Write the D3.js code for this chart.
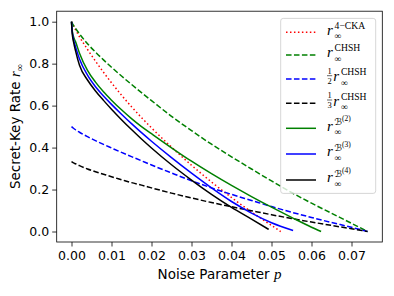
<!DOCTYPE html>
<html><head><meta charset="utf-8">
<script src="https://cdn.jsdelivr.net/npm/d3@7"></script>
<style>body{margin:0;background:#fff}svg{display:block}</style>
</head><body>
<svg id="c" width="394" height="296"></svg>
<script>
// ---- data (p, r) ----
const xTicks = [0, 0.01, 0.02, 0.03, 0.04, 0.05, 0.06, 0.07];
const yTicks = [0, 0.2, 0.4, 0.6, 0.8, 1.0];

const rCKA = [[0,1],[0.001,0.962],[0.002,0.928],[0.004,0.868],[0.006,0.812],[0.008,0.759],[0.01,0.709],[0.0125,0.65],[0.015,0.595],[0.0175,0.543],[0.02,0.494],[0.025,0.402],[0.03,0.316],[0.035,0.236],[0.04,0.162],[0.045,0.093],[0.05,0.029],[0.0523,0]];
const rCHSH = [[0,1],[0.0005,0.982],[0.001,0.968],[0.002,0.942],[0.004,0.895],[0.006,0.855],[0.008,0.818],[0.01,0.783],[0.0125,0.741],[0.015,0.701],[0.0175,0.662],[0.02,0.624],[0.025,0.549],[0.03,0.481],[0.035,0.416],[0.04,0.356],[0.045,0.298],[0.05,0.241],[0.055,0.186],[0.06,0.135],[0.065,0.087],[0.07,0.039],[0.074,0]];
const rHalfCHSH = [[0,0.5],[0.0005,0.492],[0.001,0.485],[0.002,0.473],[0.004,0.452],[0.006,0.433],[0.008,0.415],[0.01,0.398],[0.0125,0.377],[0.015,0.357],[0.0175,0.337],[0.02,0.317],[0.025,0.279],[0.03,0.242],[0.035,0.208],[0.04,0.177],[0.045,0.148],[0.05,0.119],[0.055,0.092],[0.06,0.067],[0.065,0.043],[0.07,0.02],[0.074,0]];
const rThirdCHSH = [[0,0.333],[0.0005,0.327],[0.001,0.323],[0.002,0.314],[0.004,0.298],[0.006,0.285],[0.008,0.273],[0.01,0.261],[0.0125,0.247],[0.015,0.233],[0.0175,0.221],[0.02,0.208],[0.025,0.183],[0.03,0.16],[0.035,0.138],[0.04,0.118],[0.045,0.099],[0.05,0.08],[0.055,0.062],[0.06,0.045],[0.065,0.029],[0.07,0.013],[0.074,0]];
const rB2 = [[0,1],[0.0002,0.955],[0.0005,0.928],[0.001,0.905],[0.002,0.85],[0.004,0.768],[0.006,0.712],[0.008,0.666],[0.01,0.626],[0.0125,0.58],[0.015,0.538],[0.0175,0.5],[0.02,0.466],[0.025,0.399],[0.03,0.335],[0.035,0.2755],[0.04,0.2195],[0.045,0.1665],[0.05,0.116],[0.055,0.0675],[0.06,0.0205],[0.0624,0]];
const rB3 = [[0,1],[0.0002,0.95],[0.0005,0.915],[0.001,0.881],[0.002,0.822],[0.004,0.745],[0.006,0.69],[0.008,0.646],[0.01,0.606],[0.0125,0.559],[0.015,0.514],[0.0175,0.471],[0.02,0.43],[0.025,0.352],[0.03,0.278],[0.035,0.208],[0.04,0.143],[0.045,0.088],[0.05,0.042],[0.0554,0.005]];
const rB4 = [[0,1],[0.0002,0.94],[0.0005,0.905],[0.001,0.862],[0.002,0.792],[0.004,0.722],[0.006,0.67],[0.008,0.625],[0.01,0.583],[0.0125,0.533],[0.015,0.486],[0.0175,0.441],[0.02,0.398],[0.025,0.318],[0.03,0.245],[0.035,0.177],[0.04,0.115],[0.045,0.059],[0.0493,0.01]];

const seriesList = [rCKA, rCHSH, rHalfCHSH, rThirdCHSH, rB2, rB3, rB4];
const legendLabels = [
  {sup: "4\u2212CKA"},
  {sup: "CHSH"},
  {frac: "2", sup: "CHSH"},
  {frac: "3", sup: "CHSH"},
  {B: "(2)"},
  {B: "(3)"},
  {B: "(4)"}
];

// ---- styles ----
const styles = [
  {color: "#ff0000", dash: "1.5,2.475"},
  {color: "#008000", dash: "5.55,2.4"},
  {color: "#0000ff", dash: "5.55,2.4"},
  {color: "#000000", dash: "5.55,2.4"},
  {color: "#008000", dash: null},
  {color: "#0000ff", dash: null},
  {color: "#000000", dash: null}
];

const svg = d3.select("#c");
const L = 56.7, R = 382.3, T = 11.2, B = 242;
const x = d3.scaleLinear().domain([-0.0037, 0.0777]).range([L, R]);
const y = d3.scaleLinear().domain([-0.05, 1.05]).range([B, T]);

const sans = "DejaVu Sans, sans-serif";
const serif = "Liberation Serif, DejaVu Serif, serif";

// axes
const xa = svg.append("g").attr("transform", `translate(0,${B})`)
  .call(d3.axisBottom(x).tickValues(xTicks).tickFormat(d3.format(".2f")).tickSize(4.5).tickPadding(5).tickSizeOuter(0));
const ya = svg.append("g").attr("transform", `translate(${L},0)`)
  .call(d3.axisLeft(y).tickValues(yTicks).tickFormat(d3.format(".1f")).tickSize(4.5).tickPadding(3).tickSizeOuter(0));
[xa, ya].forEach(a => {
  a.select(".domain").remove();
  a.selectAll("line").attr("stroke", "#000").attr("stroke-width", 0.8);
  a.selectAll("text").attr("font-family", sans).attr("font-size", 12.5).attr("fill", "#000");
});

// lines
const line = d3.line().x(d => x(d[0])).y(d => y(d[1])).curve(d3.curveMonotoneX);
seriesList.forEach((s, i) => {
  svg.append("path").datum(s).attr("d", line)
    .attr("fill", "none").attr("stroke", styles[i].color).attr("stroke-width", 1.5)
    .attr("stroke-dasharray", styles[i].dash).attr("stroke-linejoin", "round");
});

// frame
svg.append("rect").attr("x", L).attr("y", T).attr("width", R - L).attr("height", B - T)
  .attr("fill", "none").attr("stroke", "#000").attr("stroke-width", 0.8);

// axis labels
const xl = svg.append("text").attr("x", (L + R) / 2).attr("y", 279).attr("text-anchor", "middle")
  .attr("font-family", sans).attr("font-size", 13.5).attr("fill", "#000");
xl.append("tspan").text("Noise Parameter ");
xl.append("tspan").attr("font-family", serif).attr("font-style", "italic").attr("font-size", 15).text("p");

const yl = svg.append("text").attr("transform", `translate(20,${(T + B) / 2}) rotate(-90)`).attr("text-anchor", "middle")
  .attr("font-family", sans).attr("font-size", 13.5).attr("fill", "#000");
yl.append("tspan").text("Secret-Key Rate ");
yl.append("tspan").attr("font-family", serif).attr("font-style", "italic").attr("font-size", 15).text("r");
yl.append("tspan").attr("font-family", serif).attr("font-size", 10).attr("dy", 3).text("\u221E");

// legend
const lg = svg.append("g");
lg.append("rect").attr("x", 280.7).attr("y", 18.4).attr("width", 95).attr("height", 175)
  .attr("rx", 2.5).attr("fill", "#fff").attr("fill-opacity", 0.8).attr("stroke", "#cccccc").attr("stroke-width", 0.8);
const rowY = [32.3, 55, 79, 103.3, 128.3, 154, 180];
legendLabels.forEach((lab, i) => {
  const yc = rowY[i];
  lg.append("line").attr("x1", 286).attr("x2", 316).attr("y1", yc).attr("y2", yc)
    .attr("stroke", styles[i].color).attr("stroke-width", 1.5).attr("stroke-dasharray", styles[i].dash);
  let x0 = 327;
  if (lab.frac) {
    lg.append("text").attr("x", x0 + 2.6).attr("y", yc - 5.3).attr("text-anchor", "middle")
      .attr("font-family", serif).attr("font-size", 8.5).text("1");
    lg.append("text").attr("x", x0 + 2.6).attr("y", yc + 5).attr("text-anchor", "middle")
      .attr("font-family", serif).attr("font-size", 8.5).text(lab.frac);
    lg.append("line").attr("x1", x0).attr("x2", x0 + 5.2).attr("y1", yc - 3.3).attr("y2", yc - 3.3)
      .attr("stroke", "#000").attr("stroke-width", 0.6);
    x0 += 6.3;
  }
  lg.append("text").attr("x", x0).attr("y", yc + 2.3).attr("font-family", serif)
    .attr("font-style", "italic").attr("font-size", 15).text("r");
  const sx = x0 + 7.6;
  if (lab.sup) {
    lg.append("text").attr("x", sx).attr("y", yc - 3.8).attr("font-family", serif)
      .attr("font-size", 9.6).text(lab.sup);
  }
  if (lab.B) {
    const bt = lg.append("text").attr("x", sx).attr("y", yc - 3.5).attr("font-family", "DejaVu Serif, DejaVu Sans, serif")
      .attr("font-size", 9.5);
    bt.append("tspan").attr("font-style", "italic").text("\u212C");
    bt.append("tspan").attr("font-family", serif).attr("font-size", 7.5).attr("dy", -3.5).text(lab.B);
  }
  lg.append("text").attr("x", sx).attr("y", yc + 7).attr("font-family", serif)
    .attr("font-size", 9.6).text("\u221E");
});
</script>
</body></html>
